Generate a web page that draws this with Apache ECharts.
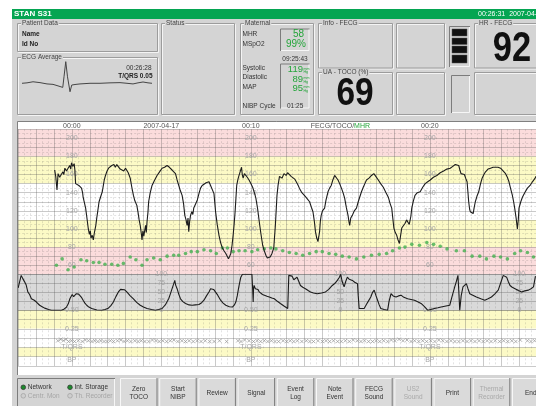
<!DOCTYPE html>
<html>
<head>
<meta charset="utf-8">
<script src="https://cdn.jsdelivr.net/npm/echarts@6/dist/echarts.min.js"></script>
<style>
html,body{margin:0;padding:0;background:#fff;}
#main{width:536px;height:406px;}
</style>
</head>
<body>
<div id="main"></div>
<script>
// time axis is in minutes from 00:00
const topLabelTimes = [0, 5, 10, 15, 20];
const topLabels = ['00:00', '2007-04-17', '00:10', 'FECG/TOCO/{g|MHR}', '00:20'];
const fhrLabelTimes = [0, 10, 20];
const tocoLabelTimes = [5, 15, 25];
const fhrBandEdges = [210, 180, 150, 110, 80, 50];
const stBandEdges = [0.5, 0.25, 0, -0.125, -0.25];

// fetal heart rate (bpm)
const fhr = [[-0.96,165],[-0.9,158],[-0.83,143],[-0.8,152],[-0.77,161],[-0.68,157],[-0.58,159],[-0.5,163],[-0.45,160],[-0.39,167],[-0.3,164],[-0.21,166],[-0.12,170],[-0.06,166],[-0.02,173],[0.05,169],[0.13,172],[0.17,165],[0.21,150],[0.3,152],[0.39,148],[0.46,146],[0.54,145],[0.6,140],[0.63,135],[0.7,129],[0.77,123],[0.83,114],[0.92,100],[0.98,94],[1.03,98],[1.07,90],[1.14,93],[1.2,88],[1.25,95],[1.29,97],[1.34,104],[1.39,112],[1.45,120],[1.52,130],[1.6,135],[1.7,141],[1.76,148],[1.81,154],[1.88,159],[1.95,163],[2.05,167],[2.15,168],[2.23,170],[2.35,171],[2.43,168],[2.51,171],[2.6,170],[2.7,166],[2.79,168],[2.9,164],[3.0,167],[3.07,167],[3.15,162],[3.26,156],[3.35,146],[3.44,137],[3.52,131],[3.63,126],[3.7,118],[3.76,110],[3.82,104],[3.88,95],[3.92,88],[3.97,98],[4.02,92],[4.06,97],[4.12,104],[4.16,96],[4.2,108],[4.25,118],[4.29,130],[4.38,140],[4.48,148],[4.6,153],[4.76,159],[4.9,163],[5.04,167],[5.18,168],[5.32,170],[5.45,168],[5.6,165],[5.7,163],[5.79,161],[5.88,154],[5.97,148],[6.05,143],[6.16,137],[6.24,128],[6.31,115],[6.38,110],[6.44,104],[6.49,112],[6.53,97],[6.58,108],[6.63,115],[6.7,119],[6.76,116],[6.81,123],[6.9,127],[7.01,132],[7.1,139],[7.19,145],[7.28,148],[7.38,150],[7.5,151],[7.66,152],[7.75,148],[7.85,150],[7.94,139],[8.03,119],[8.12,105],[8.22,93],[8.31,85],[8.41,79],[8.5,76],[8.6,73],[8.68,70],[8.75,67],[8.82,70],[8.88,73],[8.95,82],[9.01,93],[9.07,106],[9.12,119],[9.17,135],[9.21,148],[9.28,155],[9.34,159],[9.4,163],[9.48,168],[9.52,160],[9.57,156],[9.64,161],[9.72,159],[9.8,157],[9.9,154],[10.0,150],[10.1,146],[10.2,140],[10.28,134],[10.38,122],[10.47,108],[10.56,95],[10.66,82],[10.75,76],[10.84,71],[10.92,68],[10.99,66],[11.08,69],[11.18,73],[11.28,79],[11.37,104],[11.46,137],[11.52,148],[11.6,158],[11.65,156],[11.7,160],[11.74,156],[11.85,161],[11.97,159],[12.05,162],[12.15,160],[12.25,158],[12.34,156],[12.45,155],[12.53,154],[12.62,149],[12.71,145],[12.85,140],[12.99,137],[13.12,134],[13.28,130],[13.38,124],[13.47,119],[13.55,108],[13.61,97],[13.68,90],[13.75,86],[13.8,92],[13.84,97],[13.88,108],[13.93,115],[14.0,120],[14.12,123],[14.2,132],[14.31,141],[14.4,145],[14.49,148],[14.58,154],[14.68,159],[14.75,157],[14.87,154],[14.96,150],[15.06,145],[15.15,140],[15.24,134],[15.33,124],[15.43,115],[15.48,108],[15.52,104],[15.58,112],[15.67,115],[15.78,120],[15.9,123],[16.0,130],[16.08,135],[16.18,141],[16.28,146],[16.37,150],[16.46,154],[16.6,156],[16.74,159],[16.87,161],[16.98,158],[17.12,154],[17.25,150],[17.4,146],[17.55,140],[17.68,135],[17.78,128],[17.87,123],[17.93,112],[17.99,101],[18.07,96],[18.15,93],[18.22,88],[18.3,84],[18.36,92],[18.43,101],[18.52,103],[18.61,106],[18.7,110],[18.8,112],[18.85,105],[18.89,104],[18.94,114],[18.99,123],[19.08,131],[19.17,137],[19.3,140],[19.46,141],[19.6,146],[19.74,150],[19.88,152],[20.02,154],[20.2,157],[20.39,159],[20.58,162],[20.77,164],[20.95,166],[21.14,167],[21.28,169],[21.42,171],[21.52,172],[21.61,170],[21.68,165],[21.74,161],[21.83,162],[21.93,160],[22.0,156],[22.08,152],[22.13,140],[22.17,130],[22.22,122],[22.26,119],[22.34,121],[22.42,117],[22.48,124],[22.54,130],[22.63,136],[22.73,141],[22.82,149],[22.92,156],[23.02,160],[23.11,163],[23.25,166],[23.39,167],[23.53,168],[23.67,168],[23.81,168],[23.95,167],[24.09,164],[24.23,161],[24.33,157],[24.42,152],[24.52,144],[24.61,137],[24.68,130],[24.74,123],[24.82,112],[24.89,100],[24.94,110],[24.98,123],[25.08,130],[25.17,135],[25.3,140],[25.45,145],[25.6,148],[25.73,152],[25.88,156],[25.93,158]];

// maternal heart rate (bpm), green dots
const mhr = [[-0.86,60],[-0.54,67],[-0.21,55],[0.13,58],[0.51,66],[0.83,65],[1.2,63],[1.52,63],[1.85,61],[2.23,61],[2.57,60],[2.88,62],[3.26,69],[3.58,66],[3.92,60],[4.2,66],[4.57,68],[4.94,66],[5.32,70],[5.69,71],[5.97,71],[6.35,73],[6.67,75],[7.01,75],[7.38,77],[7.75,76],[8.07,73],[8.41,79],[8.69,79],[9.01,75],[9.34,76],[9.68,76],[10.06,75],[10.38,77],[10.75,78],[11.12,79],[11.4,78],[11.78,76],[12.15,74],[12.53,73],[12.9,71],[13.28,73],[13.65,75],[13.99,75],[14.37,73],[14.74,72],[15.11,70],[15.49,69],[15.9,67],[16.31,69],[16.74,71],[17.17,72],[17.58,73],[17.92,76],[18.3,79],[18.61,80],[18.99,83],[19.42,82],[19.83,85],[20.21,83],[20.58,81],[20.96,78],[21.48,76],[21.93,76],[22.36,70],[22.79,70],[23.16,67],[23.58,70],[23.95,69],[24.33,67],[24.74,73],[25.07,76],[25.45,74],[25.79,69]];

// uterine activity (TOCO %)
const toco = [[-3.0,62],[-2.83,97],[-2.74,88],[-2.64,79],[-2.55,70],[-2.46,51],[-2.36,44],[-2.26,32],[-2.1,28],[-1.98,23],[-1.8,14],[-1.66,10],[-1.52,6],[-1.3,2],[-1.14,0],[-0.58,0],[-0.45,3],[-0.3,9],[-0.2,18],[-0.11,32],[0.02,44],[0.1,38],[0.17,40],[0.25,46],[0.32,51],[0.38,45],[0.45,42],[0.55,35],[0.63,28],[0.73,20],[0.83,14],[0.95,9],[1.11,5],[1.4,1],[1.67,0],[1.85,2],[2.04,6],[2.18,13],[2.32,23],[2.46,38],[2.6,51],[2.72,58],[2.83,62],[2.95,57],[3.07,51],[3.25,41],[3.44,32],[3.62,22],[3.82,14],[4.0,9],[4.2,5],[4.45,2],[4.66,0],[4.85,2],[5.04,5],[5.22,15],[5.41,32],[5.5,45],[5.6,60],[5.68,72],[5.75,83],[5.8,70],[5.88,60],[5.97,45],[6.07,32],[6.2,24],[6.35,19],[6.55,15],[6.72,14],[6.9,15],[7.1,16],[7.25,21],[7.38,28],[7.52,40],[7.66,51],[7.75,60],[7.85,65],[7.92,58],[8.03,56],[8.15,42],[8.31,28],[8.45,20],[8.6,14],[8.8,10],[8.97,9],[9.08,15],[9.16,23],[9.24,40],[9.31,60],[9.38,78],[9.44,92],[9.53,100],[10.06,100],[10.1,60],[10.13,23],[10.15,60],[10.18,69],[10.25,60],[10.32,55],[10.4,58],[10.47,51],[10.55,48],[10.65,44],[10.75,42],[10.9,39],[11.03,37],[11.17,34],[11.31,32],[11.48,25],[11.65,19],[11.85,12],[12.06,5],[12.12,97],[12.2,92],[12.3,95],[12.4,85],[12.5,90],[12.58,92],[12.68,80],[12.77,69],[12.9,64],[13.05,60],[13.2,55],[13.33,51],[13.5,48],[13.71,46],[13.95,48],[14.17,51],[14.35,58],[14.55,69],[14.7,75],[14.83,83],[14.95,92],[15.02,100],[15.1,80],[15.21,65],[15.3,80],[15.39,92],[15.5,86],[15.67,83],[15.8,78],[15.96,74],[16.0,40],[16.05,5],[16.33,5],[16.5,20],[16.7,37],[16.8,50],[16.89,56],[16.98,42],[17.08,28],[17.17,15],[17.26,5],[17.45,2],[17.64,0],[17.72,25],[17.83,46],[17.95,40],[18.11,37],[18.25,40],[18.39,42],[18.55,36],[18.76,32],[18.95,30],[19.14,28],[19.32,24],[19.51,19],[19.7,10],[19.89,0],[20.1,3],[20.26,5],[20.45,7],[20.63,9],[20.9,12],[21.11,14],[21.25,40],[21.39,65],[21.48,80],[21.57,97],[21.62,50],[21.67,0],[21.75,40],[21.85,65],[21.95,70],[22.04,74],[22.13,60],[22.23,46],[22.4,42],[22.6,37],[22.85,32],[23.07,28],[23.25,32],[23.44,37],[23.62,45],[23.82,56],[23.95,75],[24.1,97],[24.2,95],[24.29,92],[24.38,80],[24.48,69],[24.6,64],[24.76,60],[24.95,55],[25.13,51],[25.3,54],[25.51,56],[25.65,60],[25.79,65],[25.9,95]];

// T/QRS ratio markers
const tqrs = [[-0.78,0.09],[-0.62,0.11],[-0.47,0.09],[-0.33,0.11],[-0.18,0.08],[-0.02,0.09],[0.15,0.08],[0.36,0.09],[0.58,0.08],[0.75,0.1],[0.93,0.09],[1.12,0.08],[1.28,0.09],[1.45,0.08],[1.62,0.09],[1.8,0.08],[1.97,0.08],[2.15,0.09],[2.33,0.08],[2.55,0.09],[2.74,0.1],[2.92,0.08],[3.1,0.09],[3.3,0.08],[3.52,0.09],[3.7,0.08],[3.88,0.09],[4.08,0.08],[4.3,0.08],[4.5,0.1],[4.7,0.09],[4.88,0.08],[5.08,0.09],[5.3,0.08],[5.5,0.09],[5.7,0.1],[5.92,0.08],[6.15,0.09],[6.35,0.08],[6.55,0.09],[6.78,0.08],[7.0,0.09],[7.22,0.08],[7.45,0.09],[7.7,0.08],[7.95,0.08],[8.25,0.09],[8.65,0.08],[9.28,0.09],[9.45,0.08],[9.65,0.1],[9.9,0.09],[10.15,0.08],[10.35,0.09],[10.55,0.08],[10.75,0.09],[10.95,0.08],[11.15,0.09],[11.35,0.08],[11.55,0.08],[11.8,0.09],[12.0,0.08],[12.2,0.09],[12.4,0.08],[12.6,0.09],[12.85,0.08],[13.1,0.09],[13.3,0.08],[13.5,0.08],[13.75,0.09],[14.0,0.08],[14.2,0.09],[14.4,0.08],[14.62,0.09],[14.85,0.08],[15.05,0.08],[15.28,0.09],[15.5,0.08],[15.72,0.1],[15.95,0.09],[16.15,0.08],[16.35,0.09],[16.58,0.08],[16.8,0.08],[17.0,0.09],[17.2,0.08],[17.42,0.09],[17.65,0.08],[17.85,0.1],[18.05,0.09],[18.28,0.11],[18.5,0.09],[18.72,0.1],[18.95,0.08],[19.15,0.09],[19.38,0.08],[19.6,0.09],[19.82,0.08],[20.05,0.09],[20.28,0.08],[20.5,0.1],[20.72,0.09],[20.95,0.08],[21.18,0.09],[21.4,0.08],[21.62,0.08],[21.85,0.09],[22.08,0.08],[22.3,0.09],[22.52,0.08],[22.75,0.09],[22.98,0.08],[23.2,0.09],[23.42,0.08],[23.65,0.09],[23.9,0.08],[24.12,0.09],[24.35,0.08],[24.58,0.09],[24.8,0.08],[25.05,0.1],[25.45,0.09],[25.65,0.08],[25.85,0.09]];

// averaged ECG complex (ms, relative amplitude)
const ecgAvg = [[0,0],[20,0.02],[44,0.07],[72,0.03],[100,-0.03],[124,-0.05],[144,-0.12],[163,-0.19],[168,0.3],[175,1.0],[182,0.3],[192,-0.39],[199,-0.08],[216,-0.05],[232,-0.03],[272,0],[312,0],[352,0.02],[392,0.03],[420,0],[444,-0.03],[464,0.02],[484,0.06],[504,0.02],[520,0]];

const buttonLabels = ['Zero\nTOCO', 'Start\nNIBP', 'Review', 'Signal', 'Event\nLog', 'Note\nEvent', 'FECG\nSound', 'US2\nSound', 'Print', 'Thermal\nRecorder', 'End'];
const buttonDisabled = ['US2\nSound', 'Thermal\nRecorder'];

// ---- look ----
const FONT = '"Liberation Sans", Arial, sans-serif';
const BG = '#d4d4d4';
const PINK = '#fbdcdc', YELLOW = '#fcfac6', WHITE = '#ffffff', TOCO_BG = '#d9d9d9';
const GREEN = '#24a53a';
const LINE = 'rgba(80,80,80,0.3)', MINOR = 'rgba(80,80,80,0.16)';
const LABEL = '#a6a6a6';

const X_MIN = -3, X_MAX = 25.93;
const GRID_LEFT = 18.15;
const PX_PER_MIN = (536 - GRID_LEFT) / (X_MAX - X_MIN);

function bands(edges, colors) {
    let out = [];
    for (let i = 0; i < edges.length - 1; i++) {
        out.push([{yAxis: edges[i], itemStyle: {color: colors[i]}}, {yAxis: edges[i + 1]}]);
    }
    return out;
}

function timeAxis(gridIndex, extra) {
    return Object.assign({
        type: 'value', gridIndex: gridIndex, min: X_MIN, max: X_MAX, interval: 1,
        axisLine: {show: false}, axisTick: {show: false}, axisLabel: {show: false},
        splitLine: {show: true, lineStyle: {color: LINE, width: 1}},
        minorTick: {show: false, splitNumber: 3},
        minorSplitLine: {show: true, lineStyle: {color: MINOR, type: [2, 2]}}
    }, extra || {});
}

// axis that only carries labels, placed inside the grid at minute m
function labelAxis(gridIndex, m, min, max, interval, fmt, rich) {
    return {
        type: 'value', gridIndex: gridIndex, min: min, max: max, interval: interval, position: 'left',
        offset: -(m - X_MIN) * PX_PER_MIN,
        axisLine: {show: false}, axisTick: {show: false}, splitLine: {show: false},
        axisLabel: {show: true, align: 'center', margin: 0, color: LABEL, fontSize: 7, fontFamily: FONT,
            showMinLabel: true, showMaxLabel: true, formatter: fmt, rich: rich || {}}
    };
}

const yAxes = [];
function addAxis(a) { yAxes.push(a); return yAxes.length - 1; }

const fhrY = addAxis({type: 'value', gridIndex: 0, min: 50, max: 210, interval: 10,
    axisLine: {show: false}, axisTick: {show: false}, axisLabel: {show: false},
    splitLine: {lineStyle: {color: LINE}},
    minorTick: {show: false, splitNumber: 2},
    minorSplitLine: {show: true, lineStyle: {color: MINOR, type: [2, 2]}}});
fhrLabelTimes.forEach(m => addAxis(labelAxis(0, m, 50, 210, 10,
    v => (v % 20 === 0 && v > 50 && v < 210) ? String(v) : '')));

const tocoY = addAxis({type: 'value', gridIndex: 1, min: 0, max: 100, interval: 25,
    axisLine: {show: false}, axisTick: {show: false}, axisLabel: {show: false},
    splitLine: {lineStyle: {color: LINE}}});
tocoLabelTimes.forEach(m => addAxis(labelAxis(1, m, 0, 100, 25, v => String(v))));

const stY = addAxis({type: 'value', gridIndex: 2, min: -0.25, max: 0.5, interval: 0.125,
    axisLine: {show: false}, axisTick: {show: false}, axisLabel: {show: false},
    splitLine: {lineStyle: {color: LINE}}});
fhrLabelTimes.forEach(m => addAxis(labelAxis(2, m, -0.25, 0.5, 0.125, v => {
    if (v === 0.5) return '0.50';
    if (v === 0.25) return '0.25';
    if (v === 0) return 'T/QRS';
    if (v === -0.125) return '{bp|BP}';
    return '';
}, {bp: {padding: [7, 0, 0, 0], color: LABEL, fontSize: 7}})));

const ecgY = addAxis({type: 'value', gridIndex: 3, min: -0.5, max: 1.1, show: false});

// ---- screen furniture ----
function txt(x, y, text, o) {
    o = o || {};
    let el = {type: 'text', x: x, y: y, z: o.z || 5, scaleX: o.sx || 1,
        style: {text: text, fill: o.color || '#333', fontSize: o.size || 6.5,
            fontWeight: o.bold ? 'bold' : 'normal', fontFamily: FONT,
            align: o.align || 'left', verticalAlign: 'middle'}};
    if (o.bg) { el.style.backgroundColor = o.bg; el.style.padding = [0, 1]; }
    if (o.lh) el.style.lineHeight = o.lh;
    return el;
}
function box(x, y, w, h, title) {
    let els = [
        {type: 'rect', z: 3, shape: {x: x + 1.5, y: y + 1.5, width: w, height: h}, style: {fill: null, stroke: '#f4f4f4', lineWidth: 1}},
        {type: 'rect', z: 4, shape: {x: x + 0.5, y: y + 0.5, width: w, height: h}, style: {fill: null, stroke: '#9c9c9c', lineWidth: 1}}
    ];
    if (title) els.push(txt(x + 4, y + 0.5, title, {bg: BG, color: '#444'}));
    return els;
}
function sunken(x, y, w, h) {
    return [
        {type: 'polyline', z: 4, shape: {points: [[x + 0.5, y + h], [x + 0.5, y + 0.5], [x + w, y + 0.5]]}, style: {stroke: '#7c7c7c', fill: null}},
        {type: 'polyline', z: 4, shape: {points: [[x + w - 0.5, y + 1], [x + w - 0.5, y + h - 0.5], [x + 1, y + h - 0.5]]}, style: {stroke: '#f6f6f6', fill: null}}
    ];
}
function button(x, label, disabled) {
    const y = 378, w = 37.5, h = 32;
    return [
        {type: 'rect', z: 3, shape: {x: x, y: y, width: w, height: h}, style: {fill: '#dadada'}},
        {type: 'polyline', z: 4, shape: {points: [[x + 0.5, y + h], [x + 0.5, y + 0.5], [x + w, y + 0.5]]}, style: {stroke: '#f7f7f7', fill: null}},
        {type: 'polyline', z: 4, shape: {points: [[x + w - 0.5, y], [x + w - 0.5, y + h - 0.5], [x, y + h - 0.5]]}, style: {stroke: '#7a7a7a', fill: null}},
        txt(x + w / 2, 393.5, label, {align: 'center', color: disabled ? '#a9a9a9' : '#333', lh: 8})
    ];
}

let g = [];
// panel and title bar
g.push({type: 'rect', z: -30, shape: {x: 12, y: 9, width: 530, height: 400}, style: {fill: BG}});
g.push({type: 'rect', z: 2, shape: {x: 12, y: 9, width: 530, height: 10}, style: {fill: '#05a552'}});
g.push(txt(14, 14.2, 'STAN S31', {color: '#fff', bold: true, size: 8}));
g.push(txt(478, 14.2, '00:26:31  2007-04-17', {color: '#fff', size: 7}));

// patient / ecg
g = g.concat(box(17, 23, 140, 28, 'Patient Data'));
g.push(txt(22, 34.5, 'Name', {bold: true, color: '#222'}));
g.push(txt(22, 44.3, 'Id No', {bold: true, color: '#222'}));
g = g.concat(box(17, 57, 140, 57, 'ECG Average'));
g.push(txt(151.5, 68.3, '00:26:28', {align: 'right'}));
g.push(txt(152.5, 76, 'T/QRS 0.05', {align: 'right', bold: true, color: '#222'}));

// status / maternal
g = g.concat(box(161, 23, 73, 91, 'Status'));
g = g.concat(box(240, 23, 73, 91, 'Maternal'));
[['MHR', 34.3], ['MSpO2', 44.3], ['Systolic', 68.3], ['Diastolic', 77.7], ['MAP', 87.3], ['NIBP Cycle', 106.3]]
    .forEach(r => g.push(txt(242.5, r[1], r[0])));
g.push(txt(287, 106.5, '01:25'));
g = g.concat(sunken(280, 28.5, 29.5, 22.5));
g = g.concat(sunken(280, 63.5, 29.5, 45));
g.push(txt(295, 59.3, '09:25:43', {align: 'center'}));
g.push(txt(304, 33.8, '58', {align: 'right', color: GREEN, size: 10}));
g.push(txt(306, 44.6, '99%', {align: 'right', color: GREEN, size: 10}));
[['119', 69.8], ['89', 79.2], ['95', 88.5]].forEach(r => {
    g.push(txt(303, r[1], r[0], {align: 'right', color: GREEN, size: 9.5}));
    g.push(txt(303.5, r[1] + 0.5, 'mm\nHg', {color: GREEN, size: 3.6, lh: 3.6}));
});

// fecg info, hr, toco
g = g.concat(box(318, 23, 74, 44.5, 'Info - FECG'));
g = g.concat(box(396, 23, 48, 44.5));
g = g.concat(sunken(449, 26, 21, 41));
[[29, 7], [38, 6.5], [46, 7], [55, 8]].forEach(b => g.push({type: 'rect', z: 5,
    shape: {x: 452, y: b[0], width: 15, height: b[1]}, style: {fill: '#111', stroke: '#555', lineWidth: 0.5}}));
g = g.concat(box(474, 23, 70, 44.5, 'HR - FECG'));
g.push(txt(512, 49.5, '92', {align: 'center', bold: true, color: '#111', size: 42, sx: 0.82}));
g = g.concat(box(318, 72, 74, 42, 'UA - TOCO (%)'));
g.push(txt(355, 94.5, '69', {align: 'center', bold: true, color: '#111', size: 38, sx: 0.88}));
g = g.concat(box(396, 72, 48, 42));
g = g.concat(sunken(451, 75, 19, 38));
g = g.concat(box(474, 72, 70, 42));

// chart window
g.push({type: 'rect', z: -20, shape: {x: 17, y: 122, width: 530, height: 253}, style: {fill: '#fff'}});
g.push({type: 'polyline', z: 6, shape: {points: [[17.5, 375], [17.5, 121.5], [536, 121.5]]}, style: {stroke: '#808080', fill: null}});

// bottom status and buttons
g = g.concat(sunken(17, 378, 98, 30));
[[23.3, 387.3, 'Network', true], [70, 387.3, 'Int. Storage', true], [23.3, 395.8, 'Centr. Mon', false], [70, 395.8, 'Th. Recorder', false]]
    .forEach(s => {
        g.push({type: 'circle', z: 5, shape: {cx: s[0], cy: s[1], r: 2.3},
            style: {fill: s[3] ? '#1c8c2c' : '#cfcfcf', stroke: s[3] ? '#3a3a3a' : '#a5a5a5', lineWidth: 0.8}});
        g.push(txt(s[0] + 4.5, s[1], s[2], {color: s[3] ? '#333' : '#a5a5a5'}));
    });
buttonLabels.forEach((b, i) => { g = g.concat(button(120 + i * 39.2, b, buttonDisabled.indexOf(b) >= 0)); });

const gridBase = {right: 0, outerBoundsMode: 'none', containLabel: false};
const option = {
    backgroundColor: '#ffffff',
    animation: false,
    textStyle: {fontFamily: FONT},
    grid: [
        Object.assign({left: GRID_LEFT, top: 129.2, height: 145.1}, gridBase),
        Object.assign({left: GRID_LEFT, top: 274.3, height: 36}, gridBase),
        Object.assign({left: GRID_LEFT, top: 310.3, height: 55.7}, gridBase),
        {left: 22, top: 59.5, width: 130, height: 34.6, outerBoundsMode: 'none'}
    ],
    xAxis: [
        timeAxis(0, {position: 'top', axisLabel: {show: true, margin: 0, color: '#555', fontSize: 7, fontFamily: FONT,
            formatter: v => { const i = topLabelTimes.indexOf(v); return i >= 0 ? topLabels[i] : ''; },
            rich: {g: {color: GREEN, fontSize: 7}}}}),
        timeAxis(1),
        timeAxis(2),
        {type: 'value', gridIndex: 3, min: 0, max: 520, show: false}
    ],
    yAxis: yAxes,
    graphic: {elements: g},
    series: [
        {type: 'line', xAxisIndex: 0, yAxisIndex: fhrY, data: [], silent: true, z: -1,
            markArea: {silent: true, z: -1, data: bands(fhrBandEdges, [PINK, YELLOW, WHITE, YELLOW, PINK])}},
        {type: 'line', xAxisIndex: 1, yAxisIndex: tocoY, data: [], silent: true, z: -1,
            markArea: {silent: true, z: -1, data: bands([100, 0], [TOCO_BG])}},
        {type: 'line', xAxisIndex: 2, yAxisIndex: stY, data: [], silent: true, z: -1,
            markArea: {silent: true, z: -1, data: bands(stBandEdges, [YELLOW, WHITE, YELLOW, WHITE])}},
        {name: 'FHR', type: 'line', xAxisIndex: 0, yAxisIndex: fhrY, data: fhr, symbol: 'none',
            lineStyle: {color: '#1b1b1b', width: 1.1}},
        {name: 'MHR', type: 'scatter', xAxisIndex: 0, yAxisIndex: fhrY, data: mhr, symbolSize: 3.6,
            itemStyle: {color: '#43b04f'}},
        {name: 'TOCO', type: 'line', xAxisIndex: 1, yAxisIndex: tocoY, data: toco, symbol: 'none',
            lineStyle: {color: '#1b1b1b', width: 1.1}},
        {name: 'T/QRS', type: 'scatter', xAxisIndex: 2, yAxisIndex: stY, data: tqrs, symbol: 'path://M0,0L4,4M4,0L0,4',
            symbolSize: 3.5, itemStyle: {color: 'transparent', borderColor: '#8c8c8c', borderWidth: 0.8}},
        {name: 'ECG', type: 'line', xAxisIndex: 3, yAxisIndex: ecgY, data: ecgAvg, symbol: 'none',
            lineStyle: {color: '#444', width: 1}}
    ]
};

let myChart = echarts.init(document.getElementById('main'));
myChart.setOption(option);
</script>
</body>
</html>
